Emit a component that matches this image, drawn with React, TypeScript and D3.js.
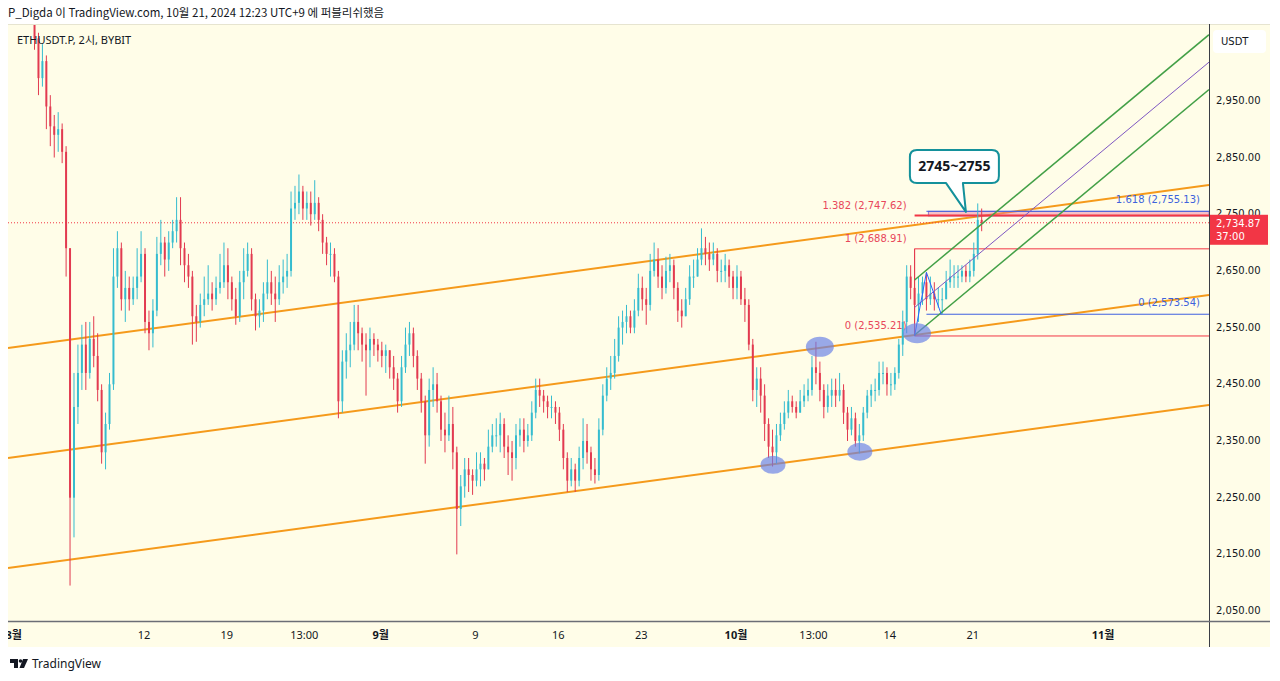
import React, { useEffect, useRef } from "react";
import * as d3 from "d3";

const width = 1280;
const height = 681;

// 8-hour candles (KST), first candle opens 2024-08-02 00:00
const startTime = Date.UTC(2024, 7, 2, 0);
const stepMs = 8 * 3600 * 1000;
const firstOpen = 3225;

const closes = [
  3150, 3060, 2990, 3020, 2940, 2905, 2890, 2900, 2860, 2690, 2250, 2410,
  2470, 2520, 2470, 2530, 2500, 2440, 2330, 2380, 2450, 2640, 2690, 2600,
  2620, 2600, 2620, 2640, 2680, 2560, 2540, 2580, 2680, 2700, 2670, 2700,
  2720, 2740, 2690, 2660, 2640, 2570, 2560, 2590, 2600, 2610, 2600, 2620,
  2630, 2660, 2630, 2600, 2570, 2630, 2650, 2680, 2600, 2570, 2580, 2610,
  2630, 2610, 2600, 2630, 2640, 2650, 2760, 2770, 2790, 2760, 2770, 2750,
  2770, 2740, 2700, 2680, 2680, 2640, 2420, 2490, 2510, 2520, 2560, 2540,
  2520, 2510, 2530, 2520, 2510, 2500, 2510, 2480, 2460, 2420, 2480, 2520,
  2540, 2500, 2460, 2420, 2360, 2440, 2450, 2420, 2370, 2360, 2380, 2330,
  2230, 2270, 2300, 2290, 2280, 2300, 2310, 2300, 2340, 2360, 2360, 2380,
  2340, 2330, 2320, 2360, 2370, 2350, 2360, 2400, 2440, 2430, 2420, 2410,
  2410, 2400, 2370, 2320, 2280, 2300, 2280, 2320, 2350, 2330, 2300, 2290,
  2370, 2430, 2460, 2470, 2500, 2550, 2560, 2570, 2550, 2580, 2620, 2600,
  2590, 2650, 2670, 2640, 2620, 2650, 2660, 2620, 2580, 2570, 2600, 2640,
  2640, 2670, 2690, 2680, 2670, 2680, 2650, 2650, 2660, 2640, 2620, 2640,
  2600, 2590, 2520, 2440, 2460, 2430, 2380, 2340, 2330, 2360, 2380, 2400,
  2420, 2410, 2400, 2420, 2430, 2440, 2480, 2470, 2440, 2410, 2430, 2440,
  2430, 2440, 2400, 2370, 2390, 2350, 2360, 2400, 2430, 2440, 2440, 2470,
  2470, 2450, 2450, 2470, 2520, 2560, 2640, 2620, 2590, 2610, 2630, 2600,
  2610, 2600, 2600, 2600, 2630, 2640, 2640, 2640, 2650, 2640, 2650, 2680,
  2740, 2734.87,
];

const highs = [
  3230, 3160, 3070, 3050, 3030, 2960, 2925, 2930, 2910, 2870, 2690, 2470,
  2520, 2555, 2560, 2560, 2570, 2540, 2450, 2400, 2470, 2690, 2720, 2700,
  2650, 2640, 2640, 2690, 2720, 2690, 2580, 2600, 2710, 2740, 2710, 2720,
  2740, 2780, 2780, 2700, 2680, 2650, 2590, 2610, 2640, 2660, 2630, 2640,
  2680, 2700, 2690, 2640, 2620, 2650, 2690, 2700, 2690, 2610, 2600, 2630,
  2670, 2650, 2640, 2660, 2670, 2680, 2790, 2800, 2820, 2800, 2790, 2790,
  2810, 2780, 2750, 2710, 2700, 2690, 2650, 2510, 2540, 2560, 2590, 2590,
  2550, 2540, 2550, 2540, 2530, 2525, 2520, 2510, 2500, 2470, 2500, 2550,
  2560, 2550, 2510, 2470, 2430, 2460, 2480, 2470, 2430, 2400, 2430, 2410,
  2340, 2290, 2320, 2320, 2300, 2330, 2330, 2320, 2370, 2380, 2390, 2400,
  2390, 2360, 2350, 2380, 2390, 2390, 2380, 2420, 2460, 2460, 2440, 2430,
  2430, 2420, 2410, 2380, 2330, 2320, 2310, 2340, 2390, 2380, 2340, 2320,
  2390, 2450, 2480, 2500, 2530, 2570, 2580, 2590, 2580, 2600, 2645, 2640,
  2620, 2680, 2700, 2690, 2660, 2675, 2680, 2670, 2630, 2600, 2620, 2660,
  2670, 2690, 2725, 2710, 2700, 2700, 2690, 2670, 2680, 2670, 2650, 2660,
  2650, 2620, 2600, 2530, 2480, 2480, 2450, 2390, 2370, 2380, 2400, 2420,
  2440, 2430, 2420, 2440, 2450, 2460, 2500, 2525, 2490, 2450, 2450, 2460,
  2460, 2470, 2450, 2410, 2410, 2400, 2380, 2410, 2440, 2450, 2460, 2490,
  2490, 2480, 2470, 2480, 2530, 2580, 2660, 2660, 2689, 2640, 2640, 2647,
  2640, 2630, 2620, 2620, 2650, 2670, 2660, 2660, 2660, 2660, 2670, 2700,
  2769, 2760,
];

const lows = [
  3120, 3040, 2960, 2975, 2900, 2870, 2850, 2860, 2840, 2640, 2095, 2180,
  2380, 2440, 2440, 2460, 2480, 2420, 2310, 2300, 2370, 2440, 2620, 2580,
  2560, 2580, 2590, 2600, 2630, 2540, 2510, 2515, 2570, 2660, 2640, 2650,
  2690, 2700, 2660, 2630, 2620, 2520, 2525, 2550, 2570, 2590, 2580, 2590,
  2610, 2620, 2600, 2580, 2555, 2560, 2600, 2640, 2580, 2545, 2550, 2560,
  2600, 2590, 2560, 2590, 2610, 2620, 2640, 2740, 2750, 2740, 2740, 2730,
  2740, 2720, 2680, 2660, 2640, 2630, 2390, 2400, 2460, 2480, 2510, 2510,
  2490, 2430, 2480, 2500, 2490, 2480, 2470, 2460, 2440, 2400, 2410, 2470,
  2500, 2480, 2440, 2400, 2310, 2340, 2410, 2400, 2350, 2330, 2350, 2300,
  2150, 2200, 2250, 2260, 2255, 2270, 2270, 2280, 2300, 2330, 2340, 2330,
  2320, 2290, 2280, 2300, 2340, 2330, 2340, 2350, 2390, 2410, 2400, 2390,
  2390, 2380, 2350, 2300, 2260, 2270, 2260, 2270, 2300, 2310, 2280, 2275,
  2280, 2360, 2420, 2440, 2460, 2490, 2520, 2540, 2540, 2540, 2570, 2580,
  2555, 2580, 2640, 2620, 2600, 2610, 2630, 2600, 2560, 2550, 2570, 2590,
  2620, 2640, 2660, 2660, 2650, 2660, 2630, 2630, 2630, 2620, 2600, 2600,
  2590, 2560, 2510, 2420, 2410, 2400, 2350, 2320, 2305, 2310, 2350, 2370,
  2390, 2400, 2390, 2400, 2410, 2420, 2430, 2450, 2420, 2390, 2400, 2410,
  2410, 2420, 2380, 2350, 2360, 2340, 2328, 2350, 2390, 2410, 2420, 2430,
  2450, 2430, 2430, 2440, 2460, 2500, 2540, 2600, 2535, 2560, 2590, 2580,
  2590, 2580, 2585, 2574, 2600, 2620, 2620, 2620, 2630, 2630, 2630, 2640,
  2670, 2720,
];

const lastPrice = 2734.87;
const countdown = "37:00";

const priceTicks = [2050, 2150, 2250, 2350, 2450, 2550, 2650, 2750, 2850, 2950];

const timeTicks = [
  { t: Date.UTC(2024, 7, 1), label: "8월", bold: true },
  { t: Date.UTC(2024, 7, 12), label: "12", bold: false },
  { t: Date.UTC(2024, 7, 19), label: "19", bold: false },
  { t: Date.UTC(2024, 7, 25, 13), label: "13:00", bold: false },
  { t: Date.UTC(2024, 8, 1), label: "9월", bold: true },
  { t: Date.UTC(2024, 8, 9), label: "9", bold: false },
  { t: Date.UTC(2024, 8, 16), label: "16", bold: false },
  { t: Date.UTC(2024, 8, 23), label: "23", bold: false },
  { t: Date.UTC(2024, 9, 1), label: "10월", bold: true },
  { t: Date.UTC(2024, 9, 7, 13), label: "13:00", bold: false },
  { t: Date.UTC(2024, 9, 14), label: "14", bold: false },
  { t: Date.UTC(2024, 9, 21), label: "21", bold: false },
  { t: Date.UTC(2024, 10, 1), label: "11월", bold: true },
];

// orange rising channel: top line anchors, the two lower lines are offsets
const channelDates = [Date.UTC(2024, 7, 5), Date.UTC(2024, 9, 21)];
const channelTop = [2527.3, 2745.6];
const channelOffsets = [0, -194, -388];

// green parallel channel from the Oct 15 low
const greenDates = [Date.UTC(2024, 9, 15, 20), Date.UTC(2024, 10, 4)];
const greenTop = [2634, 2967.5];
const greenOffsets = [0, -48.5, -97];

// fib retracement (red) and trend-based extension (blue)
const redFibStart = Date.UTC(2024, 9, 15, 20);
const redFib = [
  { ratio: "0", price: 2535.21 },
  { ratio: "1", price: 2688.91 },
  { ratio: "1.382", price: 2747.62 },
];
const blueFibStart = Date.UTC(2024, 9, 16, 20);
const blueFib = [
  { ratio: "0", price: 2573.54 },
  { ratio: "1.618", price: 2755.13 },
];
const zigzagDates = [Date.UTC(2024, 9, 15, 20), Date.UTC(2024, 9, 16, 20), Date.UTC(2024, 9, 18, 2)];
const zigzagPrices = [2535.21, 2647.44, 2573.54];

const zoneStart = Date.UTC(2024, 9, 17);
const zone = [2747, 2755];

const highlightDates = [
  Date.UTC(2024, 9, 3, 21),
  Date.UTC(2024, 9, 7, 20),
  Date.UTC(2024, 9, 11, 5),
  Date.UTC(2024, 9, 16, 1),
];
const highlightPrices = [2308, 2516, 2331, 2540];

const calloutDate = Date.UTC(2024, 9, 20, 4);
const calloutPrice = 2754;
const calloutText = "2745~2755";

const UP = "#35bccf";
const DOWN = "#e23a50";
const BG = "#fffde8";
const TEXT = "#131722";
const AXIS_FONT = "'DejaVu Sans', Verdana, sans-serif";
const UI_FONT = "'Noto Sans', 'Noto Sans CJK KR', sans-serif";

const App = () => {
  const svgRef = useRef(null);

  useEffect(() => {
    document.body.style.margin = "0";
    const svg = d3.select(svgRef.current);
    svg.selectAll("*").remove();

    const left = 8;
    const right = 1209;
    const top = 25;
    const bottom = 621;

    const x = d3
      .scaleUtc()
      .domain([Date.UTC(2024, 6, 31, 6, 14), Date.UTC(2024, 10, 9, 16, 48)])
      .range([left, right]);
    const y = d3.scaleLinear().domain([2032.5, 3083.7]).range([bottom, top]);

    // header
    svg
      .append("text")
      .attr("x", 8)
      .attr("y", 17)
      .attr("font-family", "'Noto Sans CJK KR', sans-serif")
      .attr("font-size", 11.5)
      .attr("fill", TEXT)
      .text("P_Digda 이 TradingView.com, 10월 21, 2024 12:23 UTC+9 에 퍼블리쉬했음");

    // panels
    svg.append("rect").attr("x", 8).attr("y", 24).attr("width", 1262).attr("height", 623).attr("fill", BG);
    svg.append("line").attr("x1", 8).attr("x2", 1270).attr("y1", 24.5).attr("y2", 24.5).attr("stroke", "#e6e4d0");

    const defs = svg.append("defs");
    defs
      .append("clipPath")
      .attr("id", "plot")
      .append("rect")
      .attr("x", left)
      .attr("y", top)
      .attr("width", right - left)
      .attr("height", bottom - top);
    defs
      .append("clipPath")
      .attr("id", "xaxis")
      .append("rect")
      .attr("x", left)
      .attr("y", bottom)
      .attr("width", right - left)
      .attr("height", 30);

    const plot = svg.append("g").attr("clip-path", "url(#plot)");

    // orange channel
    const d0 = x.domain()[0].getTime();
    const d1 = x.domain()[1].getTime();
    const extend = (dates, prices, t) =>
      prices[0] + ((prices[1] - prices[0]) * (t - dates[0])) / (dates[1] - dates[0]);

    channelOffsets.forEach((off) => {
      plot
        .append("line")
        .attr("x1", x(d0))
        .attr("y1", y(extend(channelDates, channelTop, d0) + off))
        .attr("x2", x(d1))
        .attr("y2", y(extend(channelDates, channelTop, d1) + off))
        .attr("stroke", "#f59a1b")
        .attr("stroke-width", 2);
    });

    // current price dotted line
    plot
      .append("line")
      .attr("x1", left)
      .attr("x2", right)
      .attr("y1", y(lastPrice))
      .attr("y2", y(lastPrice))
      .attr("stroke", "#f23645")
      .attr("stroke-width", 1)
      .attr("stroke-dasharray", "1,2");

    // target zone
    plot
      .append("rect")
      .attr("x", x(zoneStart))
      .attr("y", y(zone[1]))
      .attr("width", right - x(zoneStart))
      .attr("height", y(zone[0]) - y(zone[1]))
      .attr("fill", "rgba(236,120,160,0.45)")
      .attr("stroke", "#9575cd")
      .attr("stroke-width", 1);

    // red fib
    redFib.forEach((f) => {
      plot
        .append("line")
        .attr("x1", x(redFibStart))
        .attr("x2", right)
        .attr("y1", y(f.price))
        .attr("y2", y(f.price))
        .attr("stroke", "#f23645")
        .attr("stroke-width", f.ratio === "1.382" ? 2 : 1);
      plot
        .append("text")
        .attr("x", x(redFibStart) - 8)
        .attr("y", y(f.price) - 10)
        .attr("text-anchor", "end")
        .attr("dominant-baseline", "middle")
        .attr("font-family", AXIS_FONT)
        .attr("font-size", 10)
        .attr("fill", "#e8475a")
        .text(`${f.ratio} (${d3.format(",.2f")(f.price)})`);
    });
    plot
      .append("line")
      .attr("x1", x(redFibStart))
      .attr("x2", x(redFibStart))
      .attr("y1", y(redFib[0].price))
      .attr("y2", y(redFib[1].price))
      .attr("stroke", "#f23645");

    // blue fib extension
    blueFib.forEach((f) => {
      plot
        .append("line")
        .attr("x1", x(blueFibStart))
        .attr("x2", right)
        .attr("y1", y(f.price))
        .attr("y2", y(f.price))
        .attr("stroke", "#3f5fe0")
        .attr("stroke-width", 1);
      plot
        .append("text")
        .attr("x", right - 9)
        .attr("y", y(f.price) - 11)
        .attr("text-anchor", "end")
        .attr("dominant-baseline", "middle")
        .attr("font-family", AXIS_FONT)
        .attr("font-size", 10)
        .attr("fill", "#3d63dc")
        .text(`${f.ratio} (${d3.format(",.2f")(f.price)})`);
    });

    // candles
    const bodyW = Math.max(1, (x(startTime + stepMs) - x(startTime)) * 0.5);
    const candles = closes.map((c, i) => {
      const o = i === 0 ? firstOpen : closes[i - 1];
      return {
        t: startTime + i * stepMs + stepMs / 2,
        o,
        c,
        h: Math.max(highs[i], o, c),
        l: Math.min(lows[i], o, c),
      };
    });
    const cg = plot.selectAll(".candle").data(candles).enter().append("g").attr("class", "candle");
    cg.append("line")
      .attr("x1", (d) => x(d.t))
      .attr("x2", (d) => x(d.t))
      .attr("y1", (d) => y(d.h))
      .attr("y2", (d) => y(d.l))
      .attr("stroke", (d) => (d.c >= d.o ? UP : DOWN))
      .attr("stroke-width", 1);
    cg.append("rect")
      .attr("x", (d) => x(d.t) - bodyW / 2)
      .attr("y", (d) => y(Math.max(d.o, d.c)))
      .attr("width", bodyW)
      .attr("height", (d) => Math.max(1, Math.abs(y(d.o) - y(d.c))))
      .attr("fill", (d) => (d.c >= d.o ? UP : DOWN));

    // green channel
    greenOffsets.forEach((off, i) => {
      plot
        .append("line")
        .attr("x1", x(greenDates[0]))
        .attr("y1", y(greenTop[0] + off))
        .attr("x2", x(d1))
        .attr("y2", y(extend(greenDates, greenTop, d1) + off))
        .attr("stroke", i === 1 ? "#7e57c2" : "#43a047")
        .attr("stroke-width", i === 1 ? 1 : 1.5);
    });

    // zigzag
    plot
      .append("path")
      .attr(
        "d",
        d3
          .line()
          .x((d) => x(d[0]))
          .y((d) => y(d[1]))(zigzagDates.map((t, i) => [t, zigzagPrices[i]]))
      )
      .attr("fill", "none")
      .attr("stroke", "#2962ff")
      .attr("stroke-width", 1);

    // highlight ellipses
    highlightDates.forEach((t, i) => {
      plot
        .append("ellipse")
        .attr("cx", x(t))
        .attr("cy", y(highlightPrices[i]))
        .attr("rx", i % 2 === 1 ? 14 : 12.5)
        .attr("ry", i % 2 === 1 ? 10 : 9)
        .attr("fill", "rgba(104,128,230,0.68)");
    });

    // callout
    const tx = x(calloutDate);
    const ty = y(calloutPrice);
    const bx0 = tx - 56;
    const bx1 = tx + 33;
    const by0 = ty - 62;
    const by1 = ty - 29;
    const r = 7;
    const callout = `M${bx0 + r},${by0} H${bx1 - r} Q${bx1},${by0} ${bx1},${by0 + r} V${by1 - r} Q${bx1},${by1} ${bx1 - r},${by1} H${tx - 3} L${tx},${ty} L${tx - 20},${by1} H${bx0 + r} Q${bx0},${by1} ${bx0},${by1 - r} V${by0 + r} Q${bx0},${by0} ${bx0 + r},${by0} Z`;
    plot
      .append("path")
      .attr("d", callout)
      .attr("fill", "#ffffff")
      .attr("stroke", "#14919b")
      .attr("stroke-width", 2)
      .attr("stroke-linejoin", "round");
    plot
      .append("text")
      .attr("x", (bx0 + bx1) / 2)
      .attr("y", (by0 + by1) / 2 + 1)
      .attr("text-anchor", "middle")
      .attr("dominant-baseline", "middle")
      .attr("font-family", UI_FONT)
      .attr("font-size", 14)
      .attr("font-weight", "bold")
      .attr("fill", TEXT)
      .text(calloutText);

    // title
    svg
      .append("text")
      .attr("x", 17)
      .attr("y", 44)
      .attr("font-family", UI_FONT)
      .attr("font-size", 11)
      .attr("fill", TEXT)
      .text("ETHUSDT.P, 2시, BYBIT");

    // axis lines
    svg.append("line").attr("x1", right + 0.5).attr("x2", right + 0.5).attr("y1", 24).attr("y2", 647).attr("stroke", "#3a3d46");
    svg.append("line").attr("x1", left).attr("x2", 1270).attr("y1", bottom + 0.5).attr("y2", bottom + 0.5).attr("stroke", "#6b6e76").attr("stroke-width", 1.5);

    // price axis
    const yAxis = svg.append("g");
    yAxis
      .selectAll("text")
      .data(priceTicks)
      .enter()
      .append("text")
      .attr("x", 1216)
      .attr("y", (d) => y(d))
      .attr("dominant-baseline", "middle")
      .attr("font-family", AXIS_FONT)
      .attr("font-size", 10)
      .attr("fill", TEXT)
      .text((d) => d3.format(",.2f")(d));

    svg.append("rect").attr("x", 1213).attr("y", 30).attr("width", 53).attr("height", 23).attr("rx", 4).attr("fill", "#ffffff");
    svg
      .append("text")
      .attr("x", 1221)
      .attr("y", 42)
      .attr("dominant-baseline", "middle")
      .attr("font-family", AXIS_FONT)
      .attr("font-size", 10)
      .attr("fill", TEXT)
      .text("USDT");

    const py = y(lastPrice);
    svg.append("rect").attr("x", 1210).attr("y", py - 8).attr("width", 58).attr("height", 30).attr("fill", "#f23645");
    svg
      .append("text")
      .attr("x", 1216)
      .attr("y", py + 1)
      .attr("dominant-baseline", "middle")
      .attr("font-family", AXIS_FONT)
      .attr("font-size", 10)
      .attr("fill", "#ffffff")
      .text(d3.format(",.2f")(lastPrice));
    svg
      .append("text")
      .attr("x", 1216)
      .attr("y", py + 14)
      .attr("dominant-baseline", "middle")
      .attr("font-family", AXIS_FONT)
      .attr("font-size", 10)
      .attr("fill", "#ffffff")
      .text(countdown);

    // time axis
    svg
      .append("g")
      .attr("clip-path", "url(#xaxis)")
      .selectAll("text")
      .data(timeTicks)
      .enter()
      .append("text")
      .attr("x", (d) => x(d.t) - 3)
      .attr("y", 636)
      .attr("text-anchor", "middle")
      .attr("dominant-baseline", "middle")
      .attr("font-family", UI_FONT)
      .attr("font-size", 11)
      .attr("font-weight", (d) => (d.bold ? "bold" : "normal"))
      .attr("fill", TEXT)
      .text((d) => d.label);

    // logo
    const logo = svg.append("g").attr("fill", TEXT);
    logo.append("path").attr("d", "M10,659 h8 v9 h-4 v-5 h-4 z");
    logo.append("circle").attr("cx", 20.5).attr("cy", 661).attr("r", 1.8);
    logo.append("path").attr("d", "M23,659 h5 l-4,9 h-4.5 z");
    svg
      .append("text")
      .attr("x", 32)
      .attr("y", 668)
      .attr("font-family", UI_FONT)
      .attr("font-size", 12)
      .attr("fill", TEXT)
      .text("TradingView");
  }, []);

  return <svg ref={svgRef} width={width} height={height} style={{ display: "block" }}></svg>;
};

export default App;
